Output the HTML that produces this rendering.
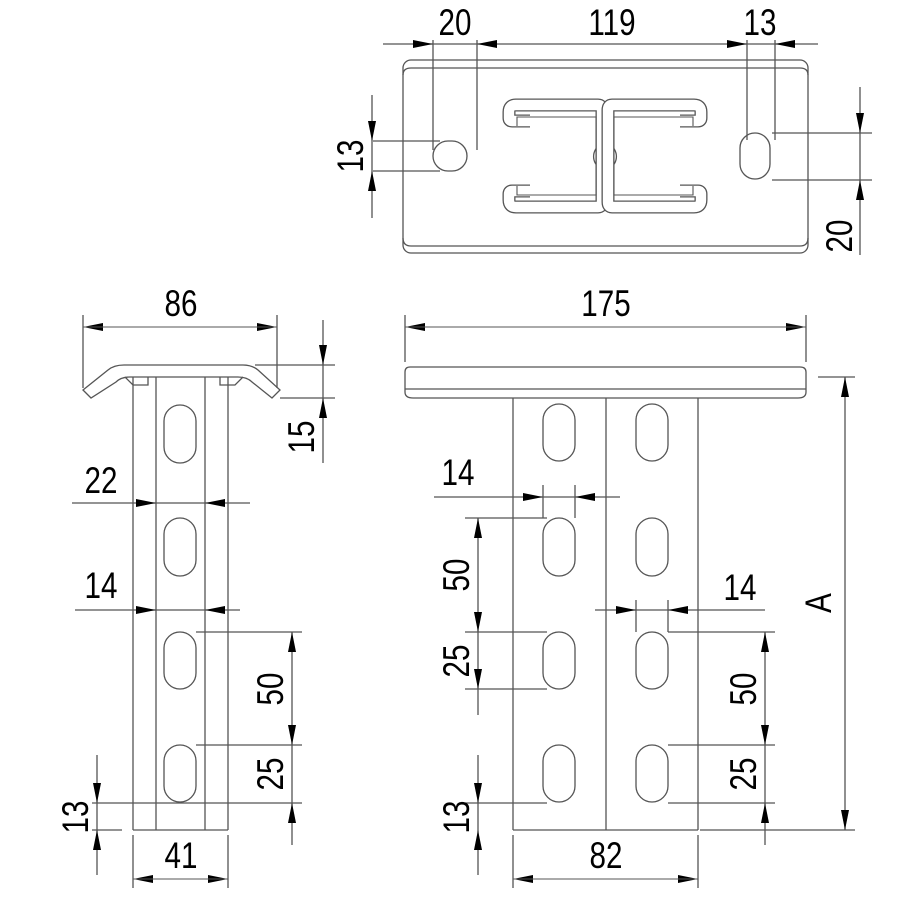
<!DOCTYPE html>
<html><head><meta charset="utf-8"><style>
html,body{margin:0;padding:0;background:#fff}
svg{display:block}
text{font-family:"Liberation Sans",sans-serif;font-size:37px;fill:#000}
</style></head><body>
<svg width="908" height="908" viewBox="0 0 908 908" xmlns="http://www.w3.org/2000/svg">
<defs>
<marker id="a" viewBox="0 0 20 8" refX="20" refY="4" markerWidth="20" markerHeight="8" markerUnits="userSpaceOnUse" orient="auto-start-reverse"><path d="M0,0 L20,4 L0,8z" fill="#000"/></marker>
<path id="cc" d="M530,121 L512,121 Q509,121 509,118 L509,112 Q509,105 516,105 L598,105 Q602,105 602,110 L602,202 Q602,207 598,207 L516,207 Q509,207 509,200 L509,194 Q509,191 512,191 L530,191"/>
</defs>
<g fill="none" stroke="#555" stroke-width="1.3">
<!-- TOP VIEW -->
<rect x="403" y="60" width="405" height="193" rx="8"/>
<path d="M403,75 Q403,68 411,68 L800,68 Q808,68 808,75"/>
<path d="M403,238 Q403,246 411,246 L800,246 Q808,246 808,238"/>
<rect x="433" y="141" width="34" height="30" rx="15"/>
<rect x="740" y="133" width="30" height="46" rx="15"/>
<path d="M600,145 A12,13 0 0 0 600,168 M610,145 A12,13 0 0 1 610,168"/>
</g>
<g fill="none">
<use href="#cc" stroke="#555" stroke-width="13"/>
<use href="#cc" stroke="#fff" stroke-width="10.4"/>
<g transform="translate(1210,0) scale(-1,1)">
<use href="#cc" stroke="#555" stroke-width="13"/>
<use href="#cc" stroke="#fff" stroke-width="10.4"/>
</g>
</g>
<g fill="none" stroke="#555" stroke-width="1.1">
<path d="M517,126 L517,117 L596,117 L596,195 L517,195 L517,186"/>
<path d="M693,126 L693,117 L614,117 L614,195 L693,195 L693,186"/>
</g>
<g fill="none" stroke="#555" stroke-width="1.3">
<!-- top view dims ext lines -->
<line x1="433" y1="40" x2="433" y2="150"/>
<line x1="477" y1="40" x2="477" y2="150"/>
<line x1="747" y1="40" x2="747" y2="140"/>
<line x1="775" y1="40" x2="775" y2="140"/>
<line x1="383" y1="44" x2="818" y2="44"/>
<line x1="373" y1="141" x2="440" y2="141"/>
<line x1="373" y1="171" x2="440" y2="171"/>
<line x1="372" y1="95" x2="372" y2="218"/>
<line x1="772" y1="133" x2="872" y2="133"/>
<line x1="772" y1="180" x2="872" y2="180"/>
<line x1="860" y1="87" x2="860" y2="255"/>

<!-- LEFT SIDE VIEW -->
<path d="M83,390 L108,370 Q114,365 124,365 L243,365 Q252,365 258,370 L280,390 L272,398 L252,382 Q247,377 238,377 L130,377 Q121,377 116,382 L91,398 Z"/>
<path d="M125,377 L133,385 L148,385 L148,377 M243,377 L235,385 L220,385 L220,377"/>
<line x1="133" y1="377" x2="133" y2="830"/>
<line x1="156" y1="377" x2="156" y2="830"/>
<line x1="205" y1="377" x2="205" y2="830"/>
<line x1="228" y1="377" x2="228" y2="830"/>
<line x1="133" y1="830" x2="228" y2="830"/>
<rect x="164" y="405" width="32" height="58" rx="16"/>
<rect x="164" y="518" width="32" height="58" rx="16"/>
<rect x="164" y="632" width="32" height="57" rx="16"/>
<rect x="164" y="745" width="32" height="57" rx="16"/>
<line x1="83" y1="315" x2="83" y2="388"/>
<line x1="277" y1="315" x2="277" y2="388"/>
<line x1="255" y1="365" x2="335" y2="365"/>
<line x1="280" y1="398" x2="335" y2="398"/>
<line x1="323" y1="320" x2="323" y2="463"/>
<line x1="72" y1="503" x2="250" y2="503"/>
<line x1="75" y1="610" x2="240" y2="610"/>
<line x1="196" y1="632" x2="302" y2="632"/>
<line x1="196" y1="745" x2="302" y2="745"/>
<line x1="92" y1="803" x2="302" y2="803"/>
<line x1="92" y1="830" x2="122" y2="830"/>
<line x1="292" y1="632" x2="292" y2="845"/>
<line x1="97" y1="755" x2="97" y2="875"/>
<line x1="133" y1="835" x2="133" y2="888"/>
<line x1="228" y1="835" x2="228" y2="888"/>

<!-- FRONT VIEW -->
<path d="M405,372 Q405,367 410,367 L800,367 Q806,367 806,372 L806,392 Q806,398 798,398 L413,398 Q405,398 405,392 Z"/>
<line x1="405" y1="389" x2="806" y2="389"/>
<line x1="513" y1="398" x2="513" y2="830"/>
<line x1="606" y1="398" x2="606" y2="830"/>
<line x1="698" y1="398" x2="698" y2="830"/>
<line x1="513" y1="830" x2="698" y2="830"/>
<rect x="543" y="404" width="32" height="57" rx="16"/>
<rect x="636" y="404" width="32" height="57" rx="16"/>
<rect x="543" y="518" width="32" height="58" rx="16"/>
<rect x="636" y="518" width="32" height="58" rx="16"/>
<rect x="543" y="632" width="32" height="57" rx="16"/>
<rect x="636" y="632" width="32" height="57" rx="16"/>
<rect x="543" y="745" width="32" height="57" rx="16"/>
<rect x="636" y="745" width="32" height="57" rx="16"/>
<line x1="405" y1="315" x2="405" y2="362"/>
<line x1="806" y1="315" x2="806" y2="362"/>
<line x1="818" y1="377" x2="855" y2="377"/>
<line x1="700" y1="830" x2="855" y2="830"/>
<line x1="845" y1="377" x2="845" y2="830"/>
<line x1="434" y1="497" x2="620" y2="497"/>
<line x1="543" y1="485" x2="543" y2="518"/>
<line x1="575" y1="485" x2="575" y2="518"/>
<line x1="465" y1="518" x2="547" y2="518"/>
<line x1="465" y1="632" x2="547" y2="632"/>
<line x1="465" y1="689" x2="547" y2="689"/>
<line x1="465" y1="803" x2="547" y2="803"/>
<line x1="478" y1="518" x2="478" y2="715"/>
<line x1="478" y1="755" x2="478" y2="875"/>
<line x1="595" y1="610" x2="765" y2="610"/>
<line x1="636" y1="600" x2="636" y2="632"/>
<line x1="668" y1="600" x2="668" y2="632"/>
<line x1="668" y1="632" x2="775" y2="632"/>
<line x1="668" y1="745" x2="775" y2="745"/>
<line x1="668" y1="803" x2="775" y2="803"/>
<line x1="765" y1="632" x2="765" y2="845"/>
<line x1="513" y1="835" x2="513" y2="888"/>
<line x1="698" y1="835" x2="698" y2="888"/>
</g>
<!-- arrows -->
<g stroke="#555" stroke-width="1" fill="none">
<line x1="413" y1="44" x2="433" y2="44" marker-end="url(#a)"/>
<line x1="497" y1="44" x2="477" y2="44" marker-end="url(#a)"/>
<line x1="727" y1="44" x2="747" y2="44" marker-end="url(#a)"/>
<line x1="795" y1="44" x2="775" y2="44" marker-end="url(#a)"/>
<line x1="372" y1="121" x2="372" y2="141" marker-end="url(#a)"/>
<line x1="372" y1="191" x2="372" y2="171" marker-end="url(#a)"/>
<line x1="860" y1="113" x2="860" y2="133" marker-end="url(#a)"/>
<line x1="860" y1="200" x2="860" y2="180" marker-end="url(#a)"/>
<line x1="103" y1="327" x2="83" y2="327" marker-end="url(#a)"/>
<line x1="257" y1="327" x2="277" y2="327" marker-end="url(#a)"/>
<line x1="83" y1="327" x2="277" y2="327"/>
<line x1="323" y1="345" x2="323" y2="365" marker-end="url(#a)"/>
<line x1="323" y1="418" x2="323" y2="398" marker-end="url(#a)"/>
<line x1="133" y1="503" x2="156" y2="503" marker-end="url(#a)"/>
<line x1="228" y1="503" x2="205" y2="503" marker-end="url(#a)"/>
<line x1="136" y1="610" x2="156" y2="610" marker-end="url(#a)"/>
<line x1="225" y1="610" x2="205" y2="610" marker-end="url(#a)"/>
<line x1="292" y1="652" x2="292" y2="632" marker-end="url(#a)"/>
<line x1="292" y1="725" x2="292" y2="745" marker-end="url(#a)"/>
<line x1="292" y1="823" x2="292" y2="803" marker-end="url(#a)"/>
<line x1="97" y1="783" x2="97" y2="803" marker-end="url(#a)"/>
<line x1="97" y1="850" x2="97" y2="830" marker-end="url(#a)"/>
<line x1="153" y1="879" x2="133" y2="879" marker-end="url(#a)"/>
<line x1="208" y1="879" x2="228" y2="879" marker-end="url(#a)"/>
<line x1="133" y1="879" x2="228" y2="879"/>
<line x1="425" y1="327" x2="405" y2="327" marker-end="url(#a)"/>
<line x1="786" y1="327" x2="806" y2="327" marker-end="url(#a)"/>
<line x1="405" y1="327" x2="806" y2="327"/>
<line x1="845" y1="397" x2="845" y2="377" marker-end="url(#a)"/>
<line x1="845" y1="810" x2="845" y2="830" marker-end="url(#a)"/>
<line x1="523" y1="497" x2="543" y2="497" marker-end="url(#a)"/>
<line x1="595" y1="497" x2="575" y2="497" marker-end="url(#a)"/>
<line x1="478" y1="538" x2="478" y2="518" marker-end="url(#a)"/>
<line x1="478" y1="612" x2="478" y2="632" marker-end="url(#a)"/>
<line x1="478" y1="669" x2="478" y2="689" marker-end="url(#a)"/>
<line x1="478" y1="783" x2="478" y2="803" marker-end="url(#a)"/>
<line x1="478" y1="850" x2="478" y2="830" marker-end="url(#a)"/>
<line x1="616" y1="610" x2="636" y2="610" marker-end="url(#a)"/>
<line x1="688" y1="610" x2="668" y2="610" marker-end="url(#a)"/>
<line x1="765" y1="652" x2="765" y2="632" marker-end="url(#a)"/>
<line x1="765" y1="725" x2="765" y2="745" marker-end="url(#a)"/>
<line x1="765" y1="823" x2="765" y2="803" marker-end="url(#a)"/>
<line x1="533" y1="879" x2="513" y2="879" marker-end="url(#a)"/>
<line x1="678" y1="879" x2="698" y2="879" marker-end="url(#a)"/>
<line x1="513" y1="879" x2="698" y2="879"/>
</g>
<!-- labels -->
<g text-anchor="middle">
<text transform="translate(455,35) scale(0.8,1)">20</text>
<text transform="translate(612,35) scale(0.8,1)">119</text>
<text transform="translate(760,35) scale(0.8,1)">13</text>
<text transform="translate(363,156) rotate(-90) scale(0.8,1)">13</text>
<text transform="translate(852,236) rotate(-90) scale(0.8,1)">20</text>
<text transform="translate(181,316) scale(0.8,1)">86</text>
<text transform="translate(606,316) scale(0.8,1)">175</text>
<text transform="translate(314,437) rotate(-90) scale(0.8,1)">15</text>
<text transform="translate(101,493) scale(0.8,1)">22</text>
<text transform="translate(101,598) scale(0.8,1)">14</text>
<text transform="translate(458,485) scale(0.8,1)">14</text>
<text transform="translate(740,600) scale(0.8,1)">14</text>
<text transform="translate(283,689) rotate(-90) scale(0.8,1)">50</text>
<text transform="translate(283,774) rotate(-90) scale(0.8,1)">25</text>
<text transform="translate(88,817) rotate(-90) scale(0.8,1)">13</text>
<text transform="translate(181,868) scale(0.8,1)">41</text>
<text transform="translate(469,575) rotate(-90) scale(0.8,1)">50</text>
<text transform="translate(469,661) rotate(-90) scale(0.8,1)">25</text>
<text transform="translate(469,817) rotate(-90) scale(0.8,1)">13</text>
<text transform="translate(756,689) rotate(-90) scale(0.8,1)">50</text>
<text transform="translate(756,774) rotate(-90) scale(0.8,1)">25</text>
<text transform="translate(606,868) scale(0.8,1)">82</text>
<text transform="translate(831,603) rotate(-90) scale(0.8,1)">A</text>
</g>
</svg>
</body></html>
